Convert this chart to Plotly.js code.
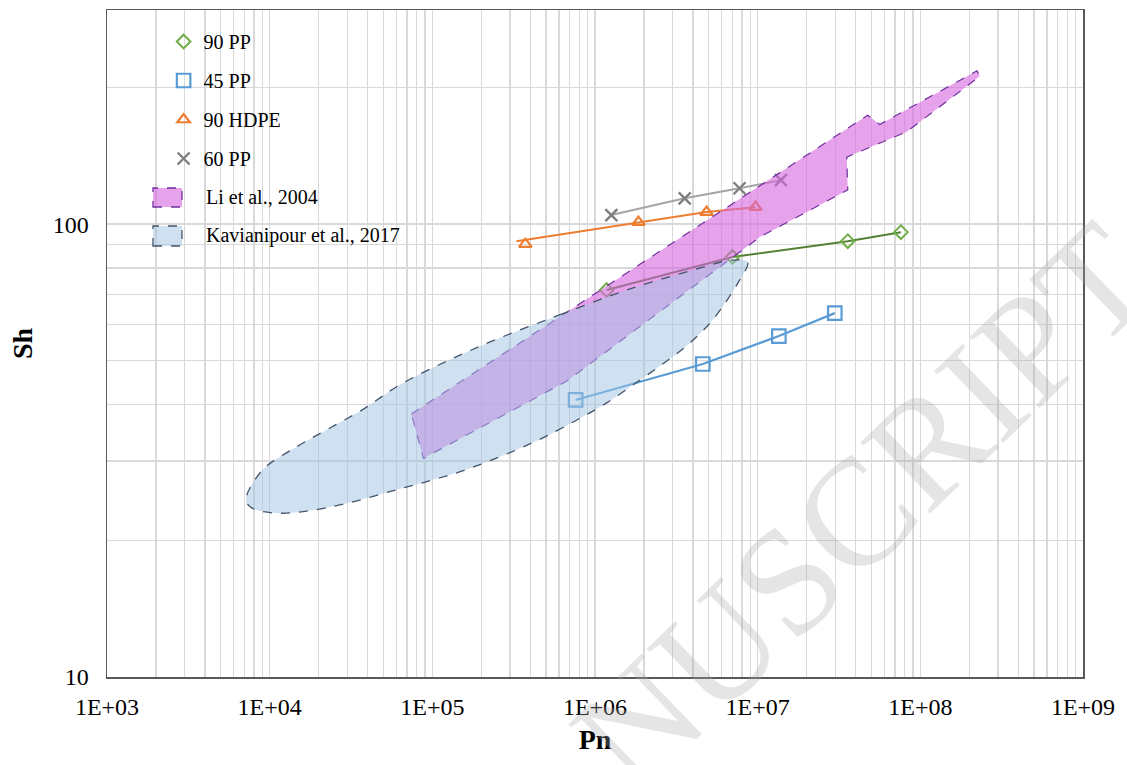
<!DOCTYPE html>
<html>
<head>
<meta charset="utf-8">
<script src="https://cdn.plot.ly/plotly-3.0.1.min.js"></script>
<style>html,body{margin:0;padding:0;background:#fff;}#chart{width:1127px;height:765px;}</style>
</head>
<body>
<div id="chart"></div>
<script>
// ---- data ----
const xTickVals = [1e3, 1e4, 1e5, 1e6, 1e7, 1e8, 1e9];
const xTickText = ['1E+03', '1E+04', '1E+05', '1E+06', '1E+07', '1E+08', '1E+09'];
const yTickVals = [10, 100];
const yTickText = ['10', '100'];

const pp90X = [1.18e6, 7.0e6, 3.58e7, 7.6e7];
const pp90Y = [71.5, 84.6, 91.7, 96.0];

const pp45X = [7.6e5, 4.6e6, 1.35e7, 2.98e7];
const pp45Y = [40.9, 49.1, 56.6, 63.6];

const hdpe90X = [3.73e5, 1.85e6, 4.85e6, 9.7e6];
const hdpe90Y = [90.3, 101.0, 106.3, 109.0];
const hdpe90LineX = [3.29e5, 1.85e6, 4.85e6, 9.7e6];
const hdpe90LineY = [91.7, 101.0, 106.3, 109.0];

const pp60X = [1.26e6, 3.56e6, 7.74e6, 1.39e7];
const pp60Y = [104.7, 114.0, 120.0, 125.0];

// Li et al., 2004 region outline
const liX = [7.43e4, 4.75e7, 5.64e7, 2.23e8, 2.32e8, 8.26e7, 3.53e7, 3.58e7, 1.03e7, 6.69e5, 8.81e4, 7.43e4];
const liY = [38.1, 174, 166, 218, 212, 160, 140.6, 119, 93.6, 45.0, 30.4, 38.1];

// Kavianipour et al., 2017 region outline
const kavX = [2.58e5, 6.05e5, 1.56e6, 3.98e6, 7.0e6, 8.67e6, 7.74e6, 5.28e6, 3.82e6, 2.75e6, 1.88e6, 1.18e6, 7.69e5, 4.12e5, 1.57e5, 6.0e4, 2.32e4, 1.14e4, 7.8e3, 7.16e3, 9.0e3, 1.46e4, 2.23e4, 3.71e4, 6.27e4, 1.27e5, 2.58e5];
const kavY = [56.0, 63.0, 71.5, 79.1, 83.3, 82.4, 75.2, 61.4, 54.6, 49.8, 45.2, 40.3, 36.9, 32.9, 28.6, 25.9, 23.7, 23.0, 23.6, 24.6, 28.6, 32.2, 35.1, 38.9, 44.1, 50.1, 56.0];

const legendNames = ['90 PP', '45 PP', '90 HDPE', '60 PP', 'Li et al., 2004', 'Kavianipour et al., 2017'];

const serif = 'Liberation Serif, Times New Roman, serif';
const liFill = 'rgba(214,100,222,0.6)';
const liLine = '#7030A0';
const kavFill = 'rgba(160,196,228,0.5)';
const kavLine = '#44546A';

const traces = [
  {x: pp90X, y: pp90Y, mode: 'lines', line: {color: '#548235', width: 2}, showlegend: false, hoverinfo: 'skip', legendgroup: 'g1'},
  {x: pp45X, y: pp45Y, mode: 'lines', line: {color: '#5B9BD5', width: 2.2}, showlegend: false, hoverinfo: 'skip', legendgroup: 'g2'},
  {x: hdpe90LineX, y: hdpe90LineY, mode: 'lines', line: {color: '#ED7D31', width: 2}, showlegend: false, hoverinfo: 'skip', legendgroup: 'g3'},
  {x: pp60X, y: pp60Y, mode: 'lines', line: {color: '#A5A5A5', width: 2}, showlegend: false, hoverinfo: 'skip', legendgroup: 'g4'},
  {x: pp90X, y: pp90Y, name: legendNames[0], mode: 'markers', legendgroup: 'g1',
   marker: {symbol: 'diamond-open', size: 10.5, color: '#70AD47', line: {width: 2, color: '#70AD47'}}},
  {x: pp45X, y: pp45Y, name: legendNames[1], mode: 'markers', legendgroup: 'g2',
   marker: {symbol: 'square-open', size: 13.5, color: '#5B9BD5', line: {width: 2.2, color: '#5B9BD5'}}},
  {x: hdpe90X, y: hdpe90Y, name: legendNames[2], mode: 'markers', legendgroup: 'g3',
   marker: {symbol: 'triangle-up-open', size: 11, color: '#ED7D31', line: {width: 2.2, color: '#ED7D31'}}},
  {x: pp60X, y: pp60Y, name: legendNames[3], mode: 'markers', legendgroup: 'g4',
   marker: {symbol: 'x-thin-open', size: 12, color: '#7F7F7F', line: {width: 2.4, color: '#7F7F7F'}}},
  {x: liX, y: liY, name: legendNames[4], mode: 'lines', fill: 'toself', showlegend: false,
   fillcolor: liFill, line: {color: liLine, width: 1.2, dash: 'dash'}},
  {x: kavX, y: kavY, name: legendNames[5], mode: 'lines', fill: 'toself', showlegend: false,
   fillcolor: kavFill, line: {color: kavLine, width: 1.3, dash: 'dash', shape: 'spline', smoothing: 1}}
];

// pixel helpers for legend placement (plot area: x 107..1083, y 10..677)
const px = v => (v - 107) / 976;
const py = v => 1 - (v - 10) / 667;

const gridC = '#d9d9d9';
const layout = {
  width: 1127, height: 765,
  margin: {l: 107, r: 44, t: 10, b: 88},
  paper_bgcolor: '#fff', plot_bgcolor: '#fff',
  font: {family: serif, color: '#000'},
  showlegend: true,
  legend: {x: 0.058, y: 0.982, xanchor: 'left', yanchor: 'top', bgcolor: 'rgba(0,0,0,0)',
           font: {family: serif, size: 20, color: '#000'}, tracegroupgap: 10, itemwidth: 30},
  xaxis: {type: 'log', range: [3, 9], tickvals: xTickVals, ticktext: xTickText,
          showgrid: true, gridcolor: gridC, gridwidth: 1.3,
          minor: {dtick: 'D1', showgrid: true, gridcolor: gridC, gridwidth: 1.3, ticks: ''},
          showline: true, linecolor: '#595959', linewidth: 1.5, mirror: true, zeroline: false,
          ticks: '', tickfont: {family: serif, size: 24, color: '#000'}, ticklabelstandoff: 8,
          title: {text: '<b>Pn</b>', font: {family: serif, size: 28, color: '#000'}, standoff: 10},
          automargin: false},
  yaxis: {type: 'log', range: [1, Math.log10(297)], tickvals: yTickVals, ticktext: yTickText,
          showgrid: true, gridcolor: gridC, gridwidth: 1.3,
          minor: {dtick: 'D1', showgrid: true, gridcolor: gridC, gridwidth: 1.3, ticks: ''},
          showline: true, linecolor: '#595959', linewidth: 1.5, mirror: true, zeroline: false,
          ticks: '', tickfont: {family: serif, size: 24, color: '#000'}, ticklabelstandoff: 12,
          title: {text: '<b>Sh</b>', font: {family: serif, size: 28, color: '#000'}, standoff: 12},
          automargin: false},
  shapes: [
    {type: 'rect', xref: 'paper', yref: 'paper', x0: px(152), x1: px(432), y0: py(255), y1: py(22),
     fillcolor: '#fff', line: {width: 0}, layer: 'between'},
    {type: 'rect', xref: 'paper', yref: 'paper', x0: px(153), x1: px(182), y0: py(207), y1: py(188),
     fillcolor: liFill, line: {color: liLine, width: 1.3, dash: 'dash'}, layer: 'above'},
    {type: 'rect', xref: 'paper', yref: 'paper', x0: px(153), x1: px(182), y0: py(246), y1: py(226),
     fillcolor: kavFill, line: {color: kavLine, width: 1.3, dash: 'dash'}, layer: 'above'}
  ],
  annotations: [
    {text: legendNames[4], xref: 'paper', yref: 'paper', x: px(204), y: py(197), xanchor: 'left', yanchor: 'middle',
     showarrow: false, font: {family: serif, size: 20, color: '#000'}},
    {text: legendNames[5], xref: 'paper', yref: 'paper', x: px(204), y: py(236), xanchor: 'left', yanchor: 'middle',
     showarrow: false, font: {family: serif, size: 20, color: '#000'}},
    {text: 'NUSCRIPT', xref: 'paper', yref: 'paper', x: 0.775, y: 0.255, xanchor: 'center', yanchor: 'middle',
     showarrow: false, textangle: -44, font: {family: serif, size: 152, color: 'rgba(170,170,170,0.3)'}}
  ]
};

Plotly.newPlot('chart', traces, layout, {displayModeBar: false, staticPlot: true});
</script>
</body>
</html>
